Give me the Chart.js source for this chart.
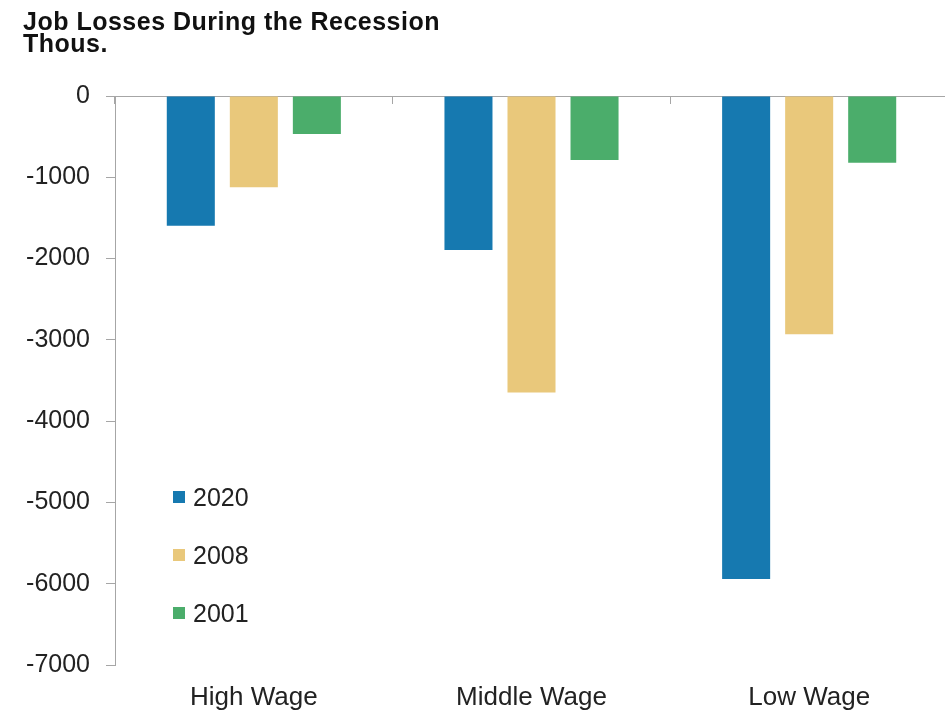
<!DOCTYPE html>
<html>
<head>
<meta charset="utf-8">
<script src="https://cdn.jsdelivr.net/npm/chart.js@4.4.0/dist/chart.umd.min.js"></script>
<style>
  html, body { margin: 0; padding: 0; background: #fff; overflow: hidden; }
  #wrap { position: relative; width: 948px; height: 711px; }
  #title {
    position: absolute; left: 23px; top: 10px;
    font: bold 25px "Liberation Sans", Arial, sans-serif;
    letter-spacing: 0.5px;
    line-height: 22px; color: #111;
  }
  #legend { position: absolute; left: 173px; top: 0; font: 25px "Liberation Sans", Arial, sans-serif; color: #222; }
  .item { position: absolute; left: 0; white-space: nowrap; display: flex; align-items: center; height: 30px; }
  .box { width: 12px; height: 12px; margin-right: 8px; }
</style>
</head>
<body>
<div id="wrap">
  <canvas id="chart" width="948" height="711"></canvas>
  <div id="title">Job Losses During the Recession<br>Thous.</div>
  <div id="legend"></div>
</div>
<script>
const categories = ["High Wage", "Middle Wage", "Low Wage"];
const seriesNames = ["2020", "2008", "2001"];
const values2020 = [-1595, -1894, -5941];
const values2008 = [-1123, -3649, -2931];
const values2001 = [-467, -787, -820];
const colors = ["#1679B0", "#E9C87B", "#4BAD6B"];
const yTicks = [0, -1000, -2000, -3000, -4000, -5000, -6000, -7000];

const axisGray = "#a6a6a6";
const font = { family: "'Liberation Sans', Arial, sans-serif", size: 25 };

const chart = new Chart(document.getElementById("chart"), {
  type: "bar",
  data: {
    labels: categories,
    datasets: [values2020, values2008, values2001].map((vals, i) => ({
      label: seriesNames[i],
      data: vals,
      backgroundColor: colors[i],
      borderWidth: 0,
      categoryPercentage: 0.681,
      barPercentage: 0.762,
    })),
  },
  options: {
    responsive: false,
    devicePixelRatio: 1,
    animation: false,
    layout: { padding: { top: 96, right: 0, left: 0, bottom: 0 } },
    plugins: {
      legend: { display: false },
      tooltip: { enabled: false },
    },
    scales: {
      x: {
        position: "bottom",
        grid: { display: false, drawTicks: false },
        border: { display: false },
        ticks: { color: "#222", font: { family: font.family, size: 26 }, padding: 17, maxRotation: 0 },
        afterFit: (s) => { s.height = 46; },
      },
      x2: {
        position: { y: 0 },
        offset: true,
        grid: { display: true, drawOnChartArea: false, drawTicks: true, tickLength: 8, color: axisGray, lineWidth: 1 },
        border: { display: false },
        ticks: { display: false },
      },
      y: {
        min: Math.min(...yTicks),
        max: Math.max(...yTicks),
        afterBuildTicks: (s) => { s.ticks = yTicks.map((v) => ({ value: v })); },
        ticks: { color: "#222", font: font, padding: 16, callback: (v) => String(v) },
        grid: {
          color: (c) => (c.tick && c.tick.value === 0 ? axisGray : "rgba(0,0,0,0)"),
          tickColor: axisGray,
          tickLength: 9,
          lineWidth: 1,
        },
        border: { display: true, color: axisGray, width: 1 },
        afterFit: (s) => { s.width = 115; },
      },
    },
  },
});

// legend drawn from the datasets, placed inside the plot like the original
const legend = document.getElementById("legend");
const rowCenters = [497, 555, 613];
chart.data.datasets.forEach((ds, i) => {
  const item = document.createElement("div");
  item.className = "item";
  item.style.top = (rowCenters[i] - 15) + "px";
  item.innerHTML = '<span class="box" style="background:' + ds.backgroundColor + '"></span>' + ds.label;
  legend.appendChild(item);
});
</script>
</body>
</html>
